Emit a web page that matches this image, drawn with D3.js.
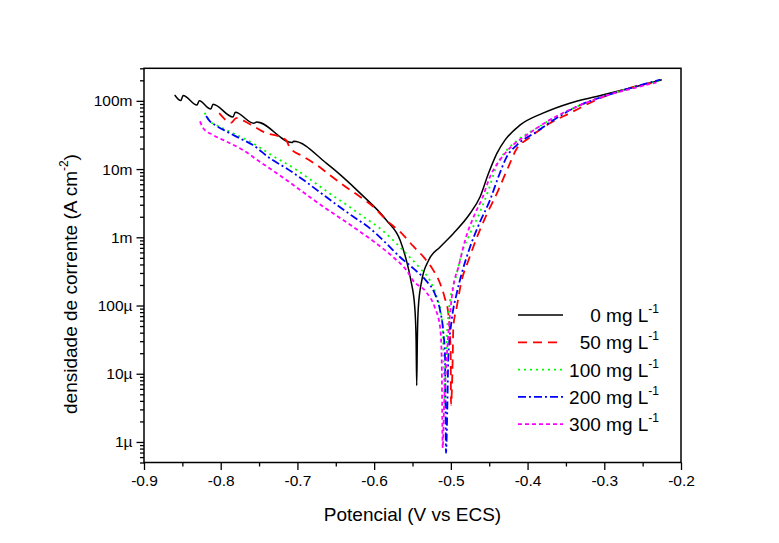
<!DOCTYPE html>
<html>
<head>
<meta charset="utf-8">
<script src="https://cdn.jsdelivr.net/npm/d3@7"></script>
<style>
  body { margin: 0; background: #fff; }
  text { font-family: "Liberation Sans", Arial, sans-serif; fill: #000; }
</style>
</head>
<body>
<div id="chart"></div>
<script>
// Set the dimensions of the page and the plot box
const width = 779;
const height = 543;
const margin = { top: 68.3, right: 98, bottom: 80.5, left: 144 };

// Polarization curves, [potential V vs ECS, current density A cm-2]
const curve0 = [
  [-0.860, 0.122], [-0.852, 0.101], [-0.849, 0.120], [-0.831, 0.087], [-0.828, 0.100],
  [-0.813, 0.076], [-0.810, 0.089], [-0.784, 0.058], [-0.781, 0.068], [-0.757, 0.047],
  [-0.753, 0.049], [-0.707, 0.0245], [-0.705, 0.0255], [-0.662, 0.0121], [-0.618, 0.0044],
  [-0.584, 0.00178], [-0.566, 9.0e-4], [-0.558, 4.6e-4], [-0.552, 2.3e-4], [-0.547, 9.3e-5],
  [-0.5453, 3.1e-5], [-0.5445, 6.7e-6], [-0.5437, 3.1e-5], [-0.5424, 9.4e-5], [-0.538, 2.3e-4],
  [-0.529, 4.6e-4], [-0.514, 7.2e-4], [-0.497, 1.13e-3], [-0.475, 2.23e-3], [-0.462, 3.9e-3],
  [-0.451, 8.6e-3], [-0.440, 0.017], [-0.429, 0.027], [-0.410, 0.044], [-0.380, 0.066],
  [-0.345, 0.0925], [-0.310, 0.116], [-0.275, 0.145], [-0.225, 0.204]
];
const curve50 = [
  [-0.802, 0.066], [-0.786, 0.048], [-0.780, 0.056], [-0.764, 0.047], [-0.745, 0.0354],
  [-0.715, 0.0267], [-0.710, 0.0207], [-0.692, 0.0152], [-0.675, 0.0115], [-0.658, 0.0082],
  [-0.640, 0.0058], [-0.618, 0.0039], [-0.601, 0.0028], [-0.584, 0.00178], [-0.566, 0.0012],
  [-0.549, 7.4e-4], [-0.534, 4.9e-4], [-0.523, 3.3e-4], [-0.514, 2.1e-4], [-0.508, 1.3e-4],
  [-0.5033, 7.6e-5], [-0.5011, 3.8e-5], [-0.5002, 1.7e-5], [-0.4998, 3.5e-6], [-0.4976, 1.7e-5],
  [-0.4968, 4.8e-5], [-0.4924, 9.4e-5], [-0.486, 2.3e-4], [-0.477, 4.6e-4], [-0.466, 1.0e-3],
  [-0.453, 2.2e-3], [-0.440, 4.4e-3], [-0.425, 0.0108], [-0.414, 0.020], [-0.399, 0.028],
  [-0.371, 0.047], [-0.345, 0.066], [-0.310, 0.1035], [-0.275, 0.145], [-0.232, 0.192]
];
const curve100 = [
  [-0.821, 0.067], [-0.814, 0.050], [-0.807, 0.045], [-0.792, 0.037], [-0.779, 0.0316],
  [-0.758, 0.0239], [-0.734, 0.0161], [-0.701, 0.0097], [-0.679, 0.0065], [-0.658, 0.0044],
  [-0.636, 0.0030], [-0.614, 0.0020], [-0.592, 0.00134], [-0.575, 9.0e-4], [-0.558, 5.75e-4],
  [-0.540, 3.5e-4], [-0.527, 2.3e-4], [-0.518, 1.3e-4], [-0.512, 6.7e-5], [-0.510, 3.05e-5],
  [-0.509, 9.9e-6], [-0.5083, 3.75e-6], [-0.507, 9.9e-6], [-0.5054, 3.05e-5], [-0.501, 1.19e-4],
  [-0.4946, 2.3e-4], [-0.486, 5.75e-4], [-0.475, 1.13e-3], [-0.462, 2.36e-3], [-0.451, 4.9e-3],
  [-0.440, 0.0115], [-0.427, 0.019], [-0.410, 0.0282], [-0.388, 0.040], [-0.362, 0.059],
  [-0.336, 0.082], [-0.301, 0.116], [-0.266, 0.154], [-0.227, 0.199]
];
const curve200 = [
  [-0.819, 0.060], [-0.814, 0.050], [-0.807, 0.044], [-0.792, 0.0354], [-0.775, 0.0282],
  [-0.758, 0.0225], [-0.736, 0.0144], [-0.714, 0.0102], [-0.692, 0.0069], [-0.671, 0.0046],
  [-0.649, 0.0030], [-0.627, 0.0020], [-0.605, 0.00134], [-0.584, 8.1e-4], [-0.566, 5.1e-4],
  [-0.549, 3.5e-4], [-0.532, 2.3e-4], [-0.521, 1.5e-4], [-0.514, 8.4e-5], [-0.510, 4.3e-5],
  [-0.5076, 1.74e-5], [-0.5063, 6.9e-7], [-0.5046, 3.2e-6], [-0.5033, 1.74e-5], [-0.499, 6.0e-5],
  [-0.4924, 1.5e-4], [-0.486, 2.9e-4], [-0.475, 7.2e-4], [-0.462, 1.68e-3], [-0.449, 3.5e-3],
  [-0.438, 7.7e-3], [-0.427, 0.0152], [-0.414, 0.0225], [-0.388, 0.0354], [-0.366, 0.0526],
  [-0.336, 0.082], [-0.301, 0.116], [-0.266, 0.154], [-0.227, 0.204]
];
const curve300 = [
  [-0.827, 0.050], [-0.823, 0.040], [-0.810, 0.0316], [-0.792, 0.0252], [-0.771, 0.019],
  [-0.749, 0.0128], [-0.727, 0.0087], [-0.705, 0.0058], [-0.684, 0.0039], [-0.662, 0.0026],
  [-0.640, 0.00178], [-0.618, 0.0012], [-0.597, 8.1e-4], [-0.575, 5.1e-4], [-0.558, 3.3e-4],
  [-0.549, 2.3e-4], [-0.532, 1.57e-4], [-0.521, 9.4e-5], [-0.514, 4.8e-5], [-0.512, 1.74e-5],
  [-0.5106, 8.2e-7], [-0.5089, 3.2e-6], [-0.5054, 1.74e-5], [-0.501, 7.6e-5], [-0.497, 1.86e-4],
  [-0.490, 3.7e-4], [-0.4815, 9.0e-4], [-0.4685, 2.23e-3], [-0.459, 3.75e-3], [-0.449, 7.7e-3],
  [-0.436, 0.0136], [-0.419, 0.0225], [-0.401, 0.0316], [-0.371, 0.0526], [-0.336, 0.082],
  [-0.301, 0.116], [-0.266, 0.149], [-0.232, 0.186]
];

// Legend names and tick labels
const seriesNames = ["0 mg L", "50 mg L", "100 mg L", "200 mg L", "300 mg L"];
const xTickValues = [-0.9, -0.8, -0.7, -0.6, -0.5, -0.4, -0.3, -0.2];
const yTickValues = [1e-6, 1e-5, 1e-4, 1e-3, 1e-2, 1e-1];
const yTickLabels = ["1µ", "10µ", "100µ", "1m", "10m", "100m"];

const series = [curve0, curve50, curve100, curve200, curve300];
const colors = ["#000000", "#ff0000", "#00ff00", "#0000ff", "#ff00ff"];
const dashes = [null, "9,6", "2,4", "8,3,2,3", "4,3"];

const svg = d3.select("#chart")
  .append("svg")
  .attr("width", width)
  .attr("height", height);

// scales
const x = d3.scaleLinear()
  .domain([-0.9, -0.2])
  .range([margin.left, width - margin.right]);

const y = d3.scaleLog()
  .domain([5e-7, 0.3])
  .range([height - margin.bottom, margin.top]);

// bottom axis with major and minor ticks
const xAxis = svg.append("g")
  .attr("transform", "translate(0," + (height - margin.bottom) + ")")
  .call(d3.axisBottom(x)
    .tickValues(xTickValues)
    .tickFormat(function(d) { return d.toFixed(1); })
    .tickSize(7.5)
    .tickPadding(4));
xAxis.select(".domain").remove();
xAxis.selectAll("text").style("font-size", "15.5px").attr("dy", "0.75em");

svg.append("g")
  .attr("transform", "translate(0," + (height - margin.bottom) + ")")
  .call(d3.axisBottom(x)
    .tickValues(d3.range(-0.85, -0.2, 0.1))
    .tickFormat("")
    .tickSize(4))
  .select(".domain").remove();

// left axis, log scale
const yAxis = svg.append("g")
  .attr("transform", "translate(" + margin.left + ",0)")
  .call(d3.axisLeft(y)
    .tickValues(yTickValues)
    .tickFormat(function(d, i) { return yTickLabels[i]; })
    .tickSize(7.5)
    .tickPadding(4));
yAxis.select(".domain").remove();
yAxis.selectAll("text").style("font-size", "15.5px");

const minorY = y.ticks().filter(function(d) {
  return yTickValues.indexOf(d) < 0;
});
svg.append("g")
  .attr("transform", "translate(" + margin.left + ",0)")
  .call(d3.axisLeft(y).tickValues(minorY).tickFormat("").tickSize(4))
  .select(".domain").remove();

svg.selectAll(".tick line").attr("stroke-width", 1.3);

// plot frame
svg.append("rect")
  .attr("x", margin.left)
  .attr("y", margin.top)
  .attr("width", width - margin.left - margin.right)
  .attr("height", height - margin.top - margin.bottom)
  .attr("fill", "none")
  .attr("stroke", "#000")
  .attr("stroke-width", 1.5);

// curves
const line = d3.line()
  .x(function(d) { return x(d[0]); })
  .y(function(d) { return y(d[1]); })
  .curve(d3.curveMonotoneX);

svg.selectAll(".curve")
  .data(series)
  .enter()
  .append("path")
  .attr("class", "curve")
  .attr("d", line)
  .attr("fill", "none")
  .attr("stroke", function(d, i) { return colors[i]; })
  .attr("stroke-width", function(d, i) { return i === 0 ? 1.5 : 1.8; })
  .attr("stroke-dasharray", function(d, i) { return dashes[i]; });

// legend
const legend = svg.selectAll(".legend")
  .data(seriesNames)
  .enter()
  .append("g")
  .attr("class", "legend")
  .attr("transform", function(d, i) { return "translate(0," + (315 + i * 27.3) + ")"; });

legend.append("line")
  .attr("x1", 518)
  .attr("x2", 563)
  .attr("stroke", function(d, i) { return colors[i]; })
  .attr("stroke-width", function(d, i) { return i === 0 ? 1.5 : 1.8; })
  .attr("stroke-dasharray", function(d, i) { return dashes[i]; });

const legendText = legend.append("text")
  .attr("x", 659)
  .attr("y", 7)
  .attr("text-anchor", "end")
  .style("font-size", "19px")
  .text(function(d) { return d; });
legendText.append("tspan")
  .attr("dy", -9)
  .style("font-size", "12px")
  .text("-1");

// axis titles
svg.append("text")
  .attr("x", (margin.left + width - margin.right) / 2)
  .attr("y", 520.5)
  .attr("text-anchor", "middle")
  .style("font-size", "19px")
  .text("Potencial (V vs ECS)");

const yTitle = svg.append("text")
  .attr("transform", "translate(77,284) rotate(-90)")
  .attr("text-anchor", "middle")
  .style("font-size", "19px")
  .text("densidade de corrente (A cm");
yTitle.append("tspan").attr("dy", -9).style("font-size", "12px").text("-2");
yTitle.append("tspan").attr("dy", 9).style("font-size", "19px").text(")");
</script>
</body>
</html>
